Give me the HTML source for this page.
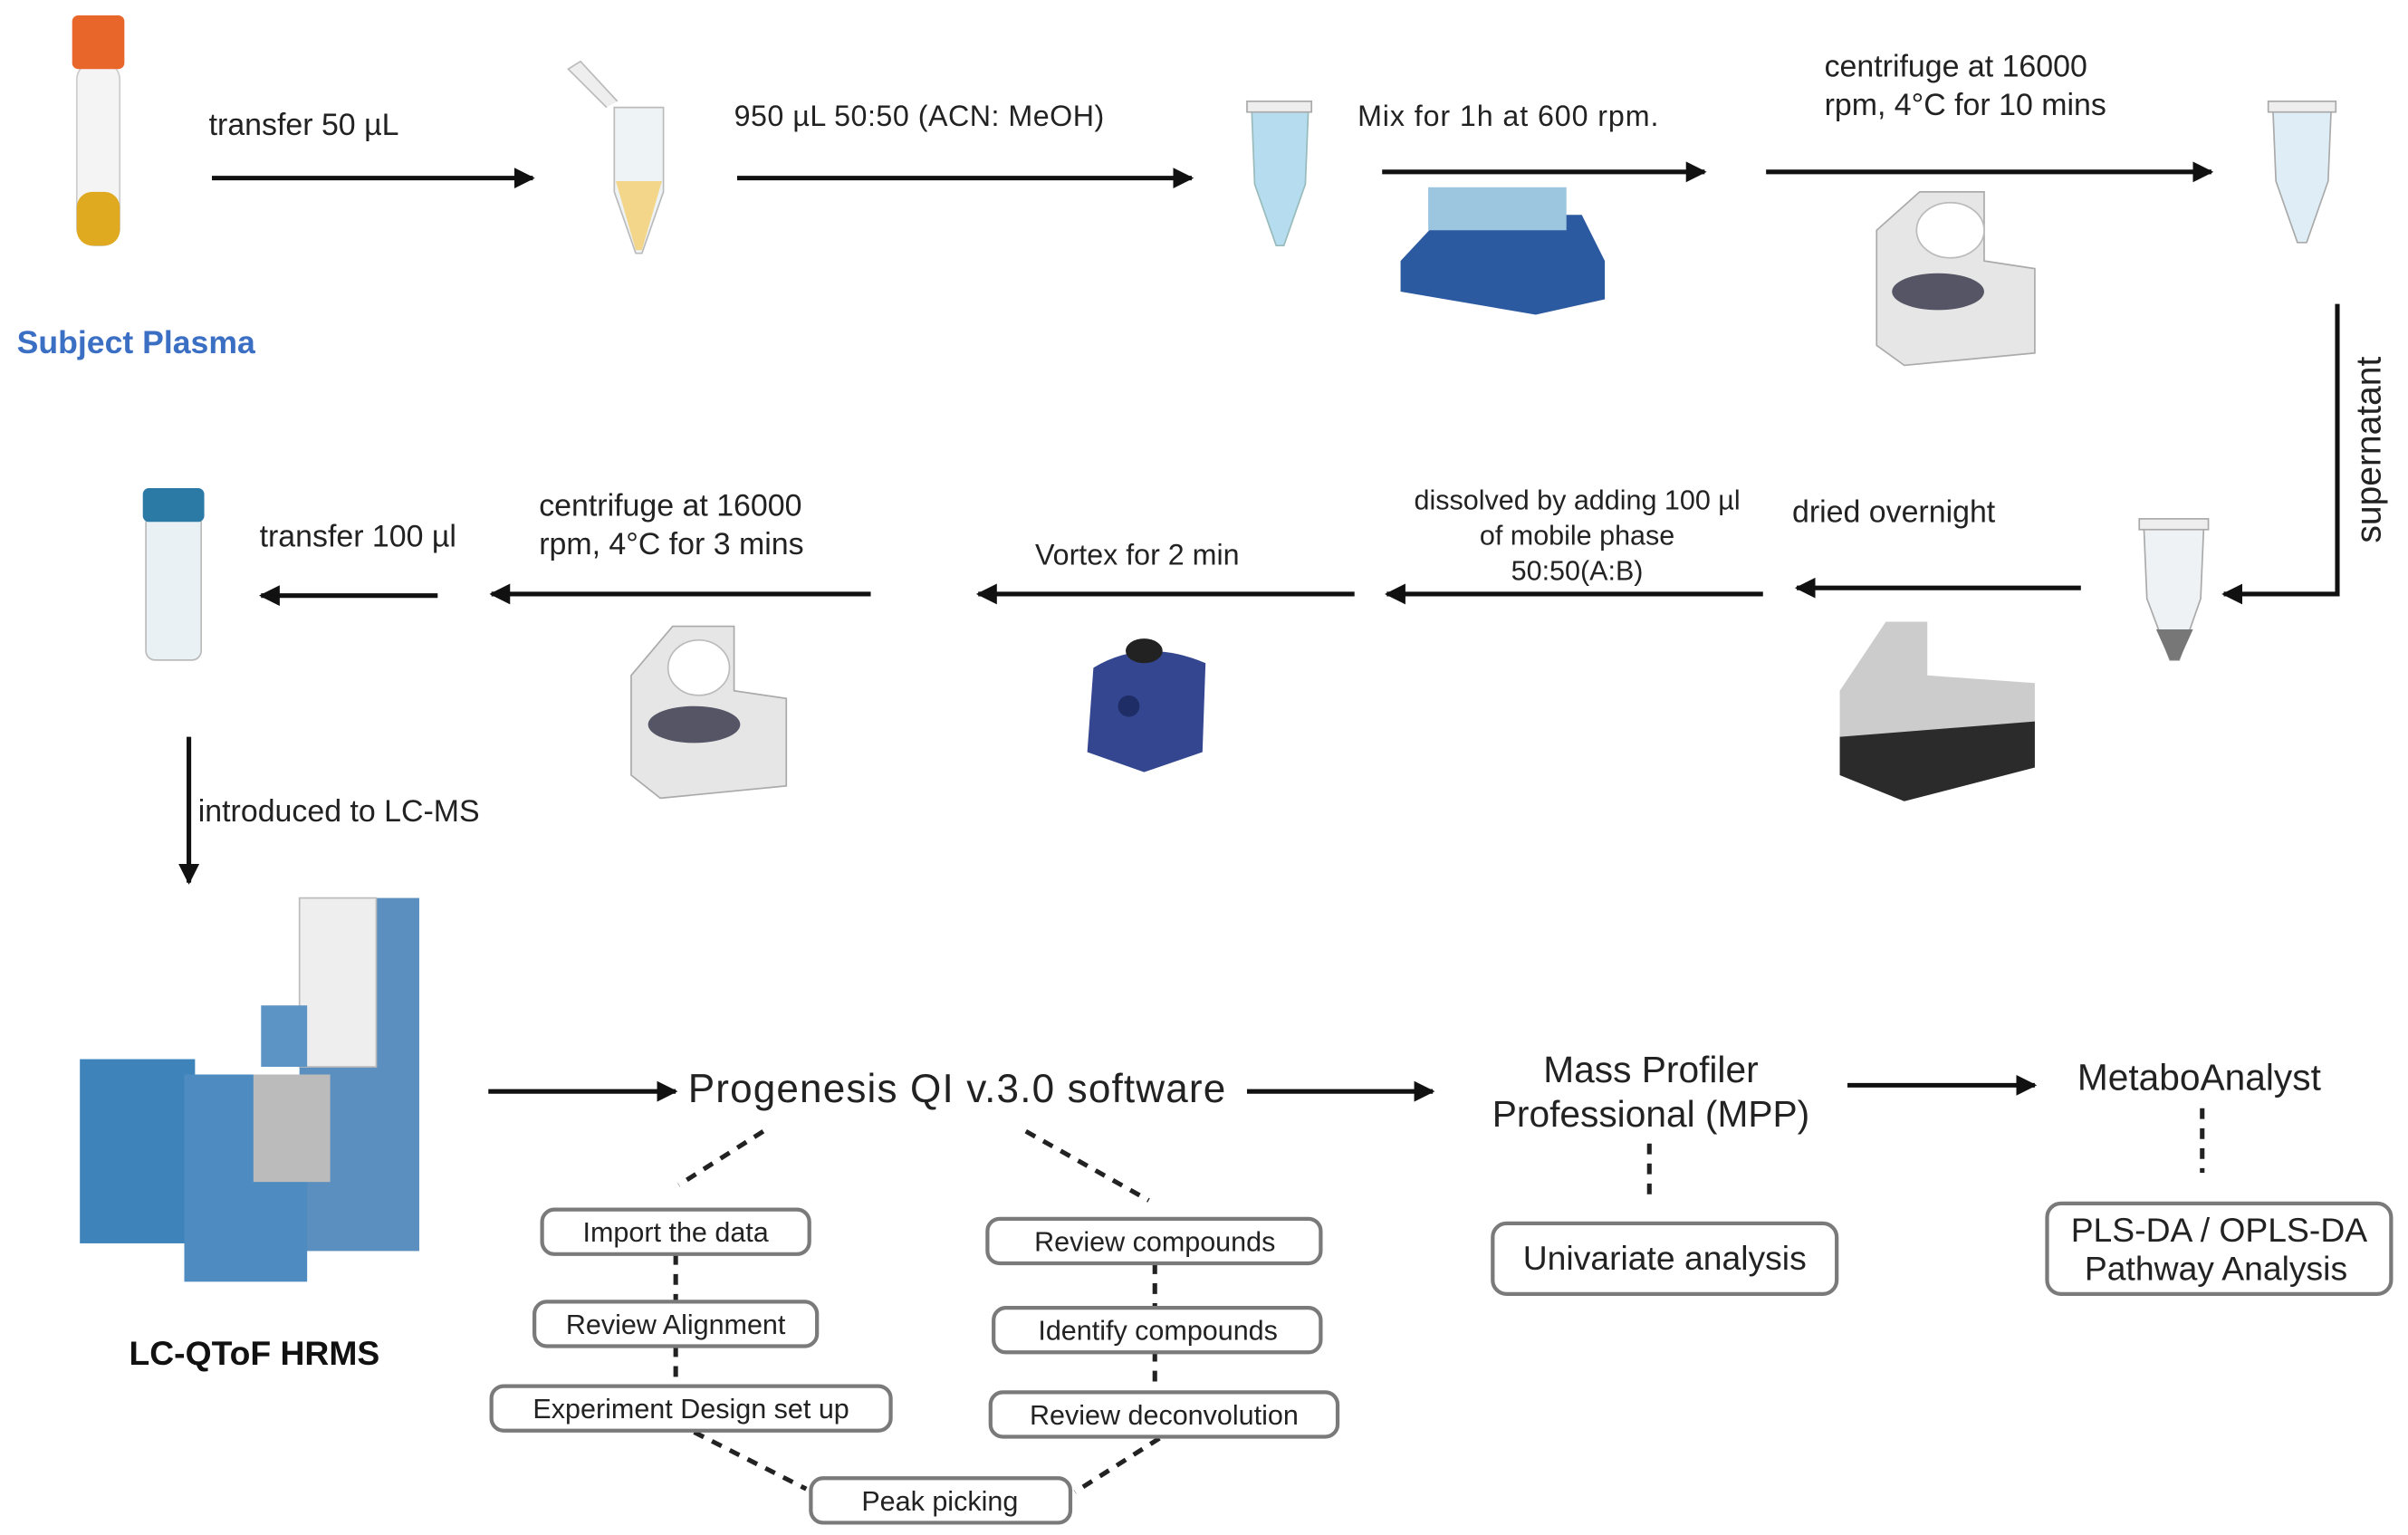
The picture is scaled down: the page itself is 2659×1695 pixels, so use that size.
<!DOCTYPE html>
<html><head><meta charset="utf-8"><style>
html,body{margin:0;padding:0;background:#fff}
svg{display:block}
text{font-family:"Liberation Sans",sans-serif;fill:#222}
</style></head><body>
<svg width="2659" height="1695" viewBox="0 0 1568 1000" preserveAspectRatio="none" xmlns="http://www.w3.org/2000/svg">
<defs>
<marker id="ah" viewBox="0 0 10 10" refX="9" refY="5" markerWidth="4.5" markerHeight="4.5" orient="auto"><path d="M0,0 L10,5 L0,10 z" fill="#111"/></marker>
</defs>
<rect width="1568" height="1000" fill="#fff"/>
<g stroke="#111" stroke-width="3" fill="none" marker-end="url(#ah)">
<line x1="138" y1="116" x2="347" y2="116"/>
<line x1="480" y1="116" x2="776" y2="116"/>
<line x1="900" y1="112" x2="1110" y2="112"/>
<line x1="1150" y1="112" x2="1440" y2="112"/>
<polyline points="1522,198 1522,387 1448,387"/>
<line x1="1355" y1="383" x2="1170" y2="383"/>
<line x1="1148" y1="387" x2="903" y2="387"/>
<line x1="882" y1="387" x2="637" y2="387"/>
<line x1="567" y1="387" x2="320" y2="387"/>
<line x1="285" y1="388" x2="170" y2="388"/>
<line x1="123" y1="480" x2="123" y2="575"/>
<line x1="318" y1="711" x2="440" y2="711"/>
<line x1="812" y1="711" x2="933" y2="711"/>
<line x1="1203" y1="707" x2="1325" y2="707"/>
</g>
<!-- icons -->
<rect x="50" y="40" width="28" height="120" rx="12" fill="#f4f4f4" stroke="#ccc"/>
<rect x="50" y="125" width="28" height="35" rx="10" fill="#e0aa20"/>
<rect x="47" y="10" width="34" height="35" rx="4" fill="#e8662a"/>
<path d="M400,70 L432,70 L432,125 L418,165 L414,165 L400,125 z" fill="#eef3f5" stroke="#bbb"/>
<path d="M401,118 L431,118 L418,163 L414,163 z" fill="#f3d68a"/>
<path d="M395,70 L370,45 L378,40 L402,66" fill="#eee" stroke="#bbb"/>
<path d="M815,70 L852,70 L850,120 L836,160 L831,160 L817,120 z" fill="#b5dcef" stroke="#9bb"/>
<rect x="812" y="66" width="42" height="7" fill="#eee" stroke="#aaa"/>
<path d="M1480,70 L1518,70 L1516,118 L1502,158 L1496,158 L1482,118 z" fill="#dfeef6" stroke="#aaa"/>
<rect x="1477" y="66" width="44" height="7" fill="#eee" stroke="#aaa"/>
<path d="M1396,343 L1435,343 L1433,390 L1419,430 L1413,430 L1398,390 z" fill="#eef2f4" stroke="#aaa"/>
<path d="M1404,410 L1428,410 L1419,430 L1413,430 z" fill="#777"/>
<rect x="1393" y="338" width="45" height="7" fill="#eee" stroke="#aaa"/>
<path d="M912,170 L940,140 L1030,140 L1045,170 L1045,195 L1000,205 L912,190 z" fill="#2c5aa0"/>
<rect x="930" y="122" width="90" height="28" fill="#9cc6df"/>
<path d="M1222,150 L1250,125 L1292,125 L1292,170 L1325,175 L1325,230 L1240,238 L1222,225 z" fill="#e6e6e6" stroke="#aaa"/>
<ellipse cx="1270" cy="150" rx="22" ry="18" fill="#fff" stroke="#bbb"/>
<ellipse cx="1262" cy="190" rx="30" ry="12" fill="#556"/>
<path d="M1198,450 L1228,405 L1255,405 L1255,440 L1325,445 L1325,500 L1240,522 L1198,505 z" fill="#ccc"/>
<path d="M1198,480 L1325,470 L1325,500 L1240,522 L1198,505 z" fill="#2b2b2b"/>
<path d="M411,440 L438,408 L478,408 L478,450 L512,455 L512,512 L430,520 L411,505 z" fill="#e6e6e6" stroke="#aaa"/>
<ellipse cx="455" cy="435" rx="20" ry="18" fill="#fff" stroke="#bbb"/>
<ellipse cx="452" cy="472" rx="30" ry="12" fill="#556"/>
<path d="M712,435 Q745,415 785,432 L783,490 L745,503 L708,490 z" fill="#34468f"/>
<ellipse cx="745" cy="424" rx="12" ry="8" fill="#222"/>
<circle cx="735" cy="460" r="7" fill="#1f2d66"/>
<rect x="95" y="335" width="36" height="95" rx="6" fill="#e9f1f4" stroke="#bbb"/>
<rect x="93" y="318" width="40" height="22" rx="4" fill="#2a7aa5"/>
<rect x="195" y="585" width="78" height="230" fill="#5b8fbf"/>
<rect x="195" y="585" width="50" height="110" fill="#eeeeee" stroke="#bbb"/>
<rect x="52" y="690" width="75" height="120" fill="#3f83bb"/>
<rect x="120" y="700" width="80" height="135" fill="#4e8bc0"/>
<rect x="165" y="700" width="50" height="70" fill="#bbb"/>
<rect x="170" y="655" width="30" height="40" fill="#5c95c5"/>
<!-- labels -->
<g font-size="20">
<text x="136" y="88">transfer 50 µL</text>
<text x="478" y="82" font-size="19" textLength="241">950 µL 50:50 (ACN: MeOH)</text>
<text x="884" y="82" font-size="19" textLength="196">Mix for 1h at 600 rpm.</text>
<text x="1188" y="50">centrifuge at 16000</text>
<text x="1188" y="75">rpm, 4°C for 10 mins</text>
<text x="1167" y="340">dried overnight</text>
<text x="674" y="368" font-size="19">Vortex for 2 min</text>
<text x="351" y="336">centrifuge at 16000</text>
<text x="351" y="361">rpm, 4°C for 3 mins</text>
<text x="169" y="356">transfer 100 µl</text>
<text x="129" y="535">introduced to LC-MS</text>
</g>
<g font-size="18" text-anchor="middle">
<text x="1027" y="332">dissolved by adding 100 µl</text>
<text x="1027" y="355">of mobile phase</text>
<text x="1027" y="378">50:50(A:B)</text>
</g>
<text x="1550" y="293" font-size="23" text-anchor="middle" transform="rotate(-90 1550 293)">supernatant</text>
<text x="11" y="230" font-size="21" font-weight="bold" style="fill:#3b6fc4">Subject Plasma</text>
<text x="84" y="889" font-size="22" font-weight="bold" style="fill:#111">LC-QToF HRMS</text>
<text x="448" y="718" font-size="26" textLength="350">Progenesis QI v.3.0 software</text>
<g font-size="24" text-anchor="middle">
<text x="1075" y="705">Mass Profiler</text>
<text x="1075" y="734">Professional (MPP)</text>
<text x="1432" y="710">MetaboAnalyst</text>
</g>
<!-- dashed -->
<g stroke="#222" stroke-width="3" stroke-dasharray="7,6" fill="none">
<line x1="497" y1="737" x2="442" y2="772"/>
<line x1="668" y1="737" x2="748" y2="782"/>
<line x1="440" y1="817" x2="440" y2="848"/>
<line x1="440" y1="877" x2="440" y2="903"/>
<line x1="752" y1="823" x2="752" y2="852"/>
<line x1="752" y1="880" x2="752" y2="907"/>
<line x1="452" y1="933" x2="525" y2="970"/>
<line x1="755" y1="937" x2="700" y2="972"/>
<line x1="1074" y1="745" x2="1074" y2="782"/>
<line x1="1434" y1="722" x2="1434" y2="764"/>
</g>
<g fill="#fff" stroke="#7a7a7a" stroke-width="2.5">
<rect x="353" y="788" width="174" height="29" rx="8"/>
<rect x="348" y="848" width="184" height="29" rx="8"/>
<rect x="320" y="903" width="260" height="29" rx="8"/>
<rect x="528" y="963" width="169" height="29" rx="8"/>
<rect x="643" y="794" width="217" height="29" rx="8"/>
<rect x="647" y="852" width="213" height="29" rx="8"/>
<rect x="645" y="907" width="226" height="29" rx="8"/>
<rect x="972" y="797" width="224" height="46" rx="9"/>
<rect x="1333" y="784" width="224" height="59" rx="9"/>
</g>
<g font-size="18" text-anchor="middle">
<text x="440" y="809">Import the data</text>
<text x="440" y="869">Review Alignment</text>
<text x="450" y="924">Experiment Design set up</text>
<text x="612" y="984">Peak picking</text>
<text x="752" y="815">Review compounds</text>
<text x="754" y="873">Identify compounds</text>
<text x="758" y="928">Review deconvolution</text>
</g>
<g font-size="22" text-anchor="middle">
<text x="1084" y="827">Univariate analysis</text>
<text x="1445" y="809">PLS-DA / OPLS-DA</text>
<text x="1443" y="834">Pathway Analysis</text>
</g>
</svg>
</body></html>
